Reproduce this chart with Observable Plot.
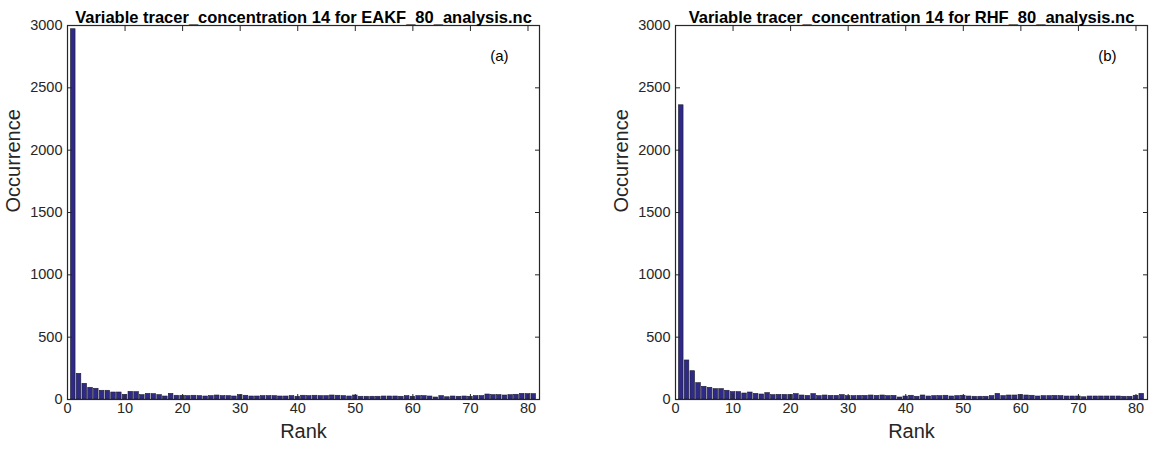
<!DOCTYPE html>
<html>
<head>
<meta charset="utf-8">
<script src="https://cdn.jsdelivr.net/npm/d3@7"></script>
<script src="https://cdn.jsdelivr.net/npm/@observablehq/plot@0.6"></script>
<style>
  html, body { margin: 0; padding: 0; background: #fff; }
  #wrap { position: relative; width: 1149px; height: 449px; }
  .panel { position: absolute; top: 0; }
</style>
</head>
<body>
<div id="wrap"></div>
<script>
// Rank histograms for tracer_concentration 14 (81 ranks each)
const ranks = d3.range(1, 82);

const eakfCounts = [
  2970, 206, 126, 94, 86, 70, 70, 56, 56, 37,
  61, 59, 35, 45, 43, 35, 24, 45, 30, 30,
  27, 30, 27, 24, 27, 32, 27, 27, 24, 35,
  30, 24, 24, 27, 27, 27, 24, 24, 27, 22,
  30, 27, 30, 27, 27, 32, 30, 27, 24, 32,
  22, 22, 22, 22, 24, 24, 24, 22, 27, 22,
  27, 27, 24, 16, 27, 18, 24, 22, 24, 22,
  27, 27, 40, 35, 35, 32, 35, 38, 45, 43,
  43
];

const rhfCounts = [
  2360, 313, 227, 131, 102, 94, 83, 83, 70, 59,
  59, 48, 56, 45, 40, 51, 35, 37, 37, 37,
  43, 32, 29, 43, 27, 32, 29, 29, 35, 27,
  27, 29, 29, 32, 29, 32, 27, 29, 16, 24,
  30, 22, 32, 24, 27, 27, 30, 24, 27, 30,
  24, 22, 22, 22, 27, 45, 27, 32, 32, 37,
  32, 30, 24, 27, 27, 29, 27, 24, 24, 24,
  18, 24, 24, 24, 24, 24, 24, 22, 22, 30,
  45
];

const xTicks = [0, 10, 20, 30, 40, 50, 60, 70, 80];
const yTicks = [0, 500, 1000, 1500, 2000, 2500, 3000];

const titles = [
  "Variable tracer_concentration 14 for EAKF_80_analysis.nc",
  "Variable tracer_concentration 14 for RHF_80_analysis.nc"
];
const tags = ["(a)", "(b)"];

const ink = "#262626";
const font = "'Liberation Sans', Arial, Helvetica, sans-serif";
const plain = d => String(d);

function panel(counts, title, tag, width, marginRight) {
  const rows = ranks.map((r, i) => ({rank: r, count: counts[i]}));
  return Plot.plot({
    width,
    height: 449,
    marginLeft: 67,
    marginRight,
    marginTop: 25,
    marginBottom: 50,
    style: {fontFamily: font, fontSize: "14.5px", color: ink, background: "#fff", overflow: "visible"},
    x: {domain: [0, 82], ticks: xTicks},
    y: {domain: [0, 3000], ticks: yTicks},
    marks: [
      Plot.rectY(rows, {
        x1: d => d.rank - 0.4,
        x2: d => d.rank + 0.4,
        y: "count",
        fill: "#2f2a88",
        stroke: "#1c1c2e",
        strokeWidth: 0.6
      }),
      Plot.frame({stroke: ink, strokeWidth: 1.2}),
      Plot.axisX(xTicks, {anchor: "bottom", tickSize: -5, tickPadding: 8, tickFormat: plain, label: null, stroke: ink, fill: ink}),
      Plot.axisX(xTicks, {anchor: "top", tickSize: -5, text: null, label: null, stroke: ink}),
      Plot.axisY(yTicks, {anchor: "left", tickSize: -5, tickPadding: 10, tickFormat: plain, label: null, stroke: ink, fill: ink}),
      Plot.axisY(yTicks, {anchor: "right", tickSize: -5, text: null, label: null, stroke: ink}),
      Plot.text([title], {frameAnchor: "top", dy: -14, fontWeight: "bold", fontSize: 16.5, fill: "#000"}),
      Plot.text([tag], {frameAnchor: "top-right", dx: -31, dy: 25, fontSize: 15, fill: "#000"}),
      Plot.text(["Rank"], {frameAnchor: "bottom", dy: 38, fontSize: 20, fill: ink}),
      Plot.text(["Occurrence"], {frameAnchor: "left", dx: -54, rotate: -90, fontSize: 20, fill: ink})
    ]
  });
}

const wrap = document.getElementById("wrap");
const a = panel(eakfCounts, titles[0], tags[0], 575, 36);
a.classList.add("panel");
a.style.left = "0px";
wrap.appendChild(a);

const b = panel(rhfCounts, titles[1], tags[1], 541, 2);
b.classList.add("panel");
b.style.left = "608px";
wrap.appendChild(b);
</script>
</body>
</html>
